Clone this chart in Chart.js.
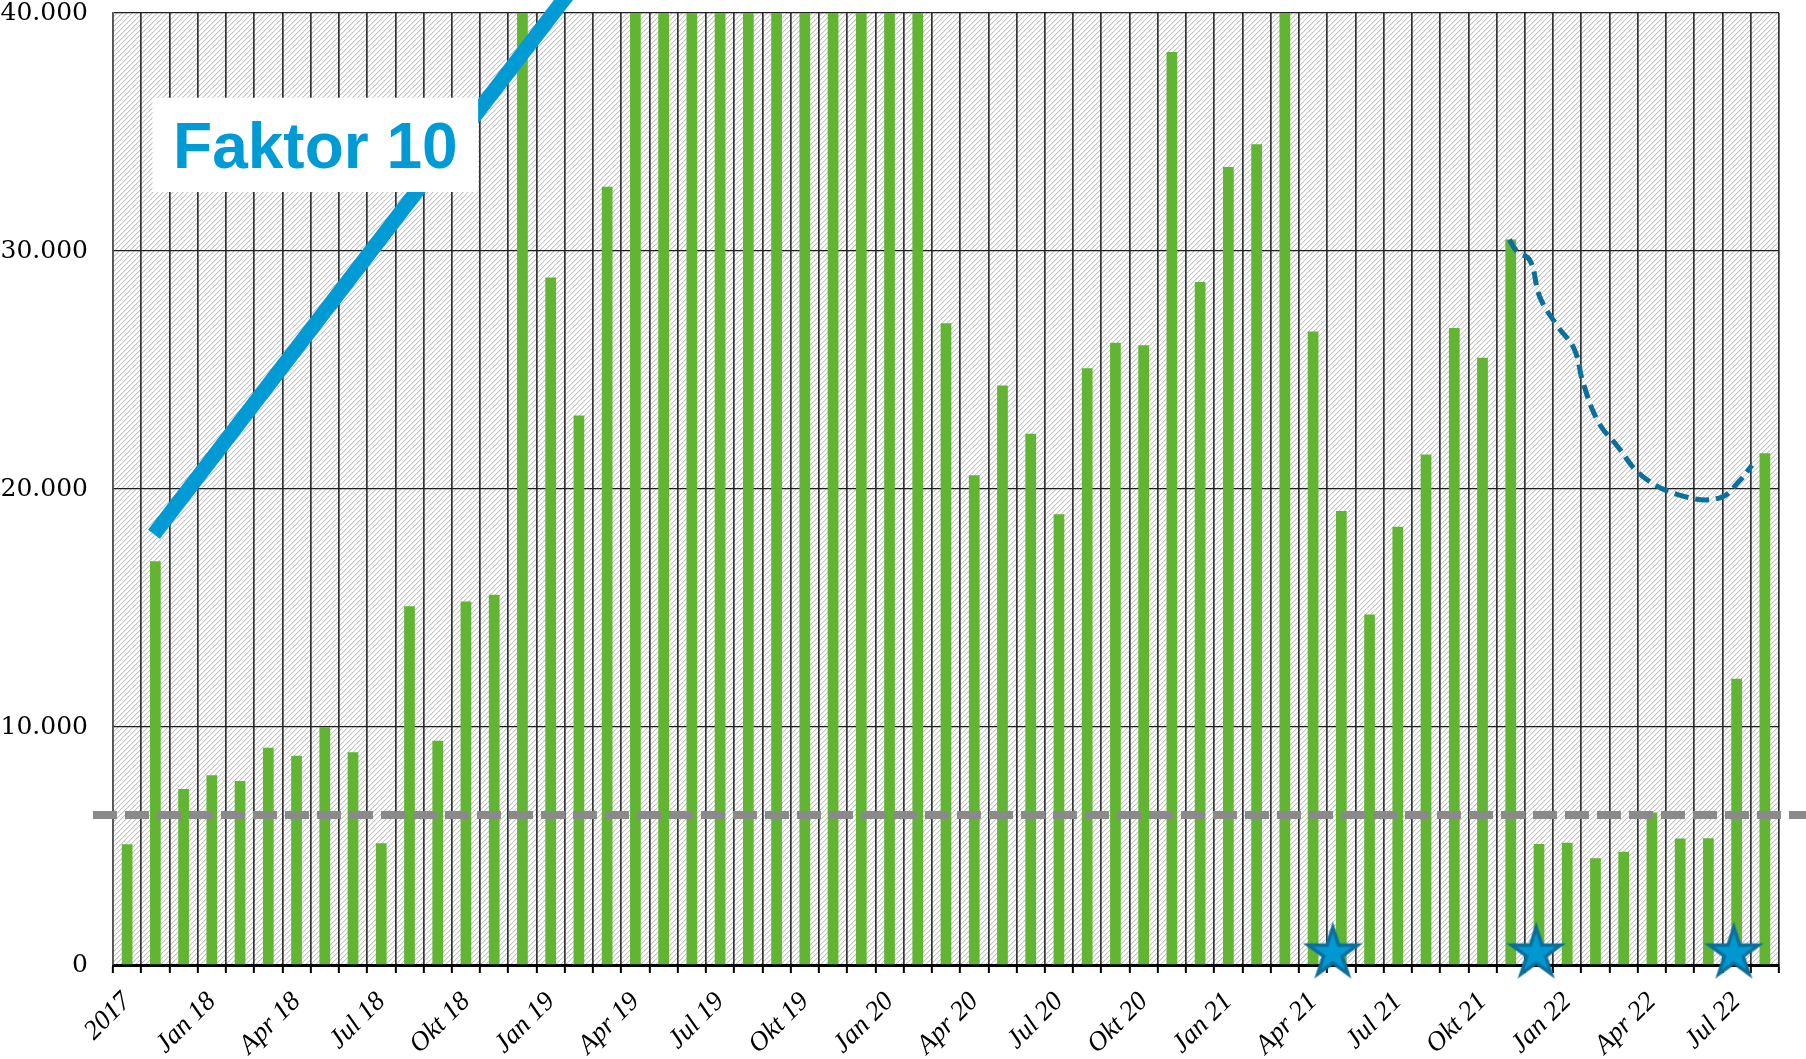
<!DOCTYPE html>
<html lang="de">
<head>
<meta charset="utf-8">
<title>Faktor 10</title>
<script src="https://cdn.jsdelivr.net/npm/chart.js@4.4.1/dist/chart.umd.min.js"></script>
<style>
  html, body { margin: 0; padding: 0; background: #fff; }
  #wrap { width: 1806px; height: 1059px; }
</style>
</head>
<body>
<div id="wrap"><canvas id="chart" width="1806" height="1059"></canvas></div>
<script>
// Monate (Okt 2017 bis Aug 2022), beschriftet wird jeder dritte
const monate = [
  '2017', 'Nov 17', 'Dez 17',
  'Jan 18', 'Feb 18', 'Mär 18', 'Apr 18', 'Mai 18', 'Jun 18', 'Jul 18', 'Aug 18', 'Sep 18', 'Okt 18', 'Nov 18', 'Dez 18',
  'Jan 19', 'Feb 19', 'Mär 19', 'Apr 19', 'Mai 19', 'Jun 19', 'Jul 19', 'Aug 19', 'Sep 19', 'Okt 19', 'Nov 19', 'Dez 19',
  'Jan 20', 'Feb 20', 'Mär 20', 'Apr 20', 'Mai 20', 'Jun 20', 'Jul 20', 'Aug 20', 'Sep 20', 'Okt 20', 'Nov 20', 'Dez 20',
  'Jan 21', 'Feb 21', 'Mär 21', 'Apr 21', 'Mai 21', 'Jun 21', 'Jul 21', 'Aug 21', 'Sep 21', 'Okt 21', 'Nov 21', 'Dez 21',
  'Jan 22', 'Feb 22', 'Mär 22', 'Apr 22', 'Mai 22', 'Jun 22', 'Jul 22', 'Aug 22'
];

// Monatswerte (über 40.000 abgeschnitten)
const werte = [
  5070, 16960, 7390,
  7970, 7730, 9130, 8790, 10000, 8940, 5120, 15070, 9420, 15270, 15560, 40000,
  28890, 23090, 32700, 40000, 40000, 40000, 40000, 40000, 40000, 40000, 40000, 40000,
  40000, 40000, 26960, 20580, 24350, 22320, 18940, 25070, 26140, 26040, 38360, 28700,
  33530, 34490, 40000, 26620, 19080, 14730, 18410, 21450, 26760, 25510, 30480, 5080,
  5140, 4490, 4760, 6410, 5310, 5330, 12030, 21500
];

const yTicks = [0, 10000, 20000, 30000, 40000];

// "Faktor 10"-Linie (x = Monatsindex)
const faktorLinie = [{ x: 0.95, y: 18100 }, { x: 16.5, y: 42170 }];
const faktorText = 'Faktor 10';

// Grenzlinie
const grenze = [{ x: -1.21, y: 6300 }, { x: 59.5, y: 6300 }];

// Prognosekurve ab Nov 21
const prognose = [
  { x: 48.95, y: 30480 }, { x: 49.21, y: 30000 }, { x: 49.68, y: 29610 },
  { x: 50.03, y: 28070 }, { x: 50.63, y: 26880 }, { x: 51.24, y: 25900 },
  { x: 51.57, y: 24430 }, { x: 52.10, y: 22820 }, { x: 52.75, y: 21840 },
  { x: 53.69, y: 20510 }, { x: 55.11, y: 19700 }, { x: 56.41, y: 19630 },
  { x: 57.12, y: 20370 }, { x: 57.54, y: 21000 }
];

// Sterne an der Achse
const sterne = [{ x: 42.7, y: 500 }, { x: 49.9, y: 500 }, { x: 56.9, y: 500 }];

function formatZahl(v) {
  return String(v).replace(/\B(?=(\d{3})+(?!\d))/g, '.');
}

function schraffur() {
  const n = 5;
  const c = document.createElement('canvas');
  c.width = n;
  c.height = n;
  const g = c.getContext('2d');
  g.fillStyle = '#fff';
  g.fillRect(0, 0, n, n);
  for (let i = 0; i < n; i++) {
    g.fillStyle = '#c4c4c4';
    g.fillRect(i, n - 1 - i, 1, 1);
    g.fillStyle = '#e8e8e8';
    g.fillRect(i, (n - i) % n, 1, 1);
  }
  return g.createPattern(c, 'repeat');
}

function sternBild(R) {
  const c = document.createElement('canvas');
  c.width = c.height = Math.ceil(2 * R + 4);
  const g = c.getContext('2d');
  const cx = c.width / 2, cy = c.height / 2;
  function stern(r) {
    g.beginPath();
    for (let k = 0; k < 10; k++) {
      const rr = k % 2 === 0 ? r : r * 0.382;
      const a = -Math.PI / 2 + k * Math.PI / 5;
      const px = cx + rr * Math.cos(a), py = cy + rr * Math.sin(a);
      if (k === 0) g.moveTo(px, py); else g.lineTo(px, py);
    }
    g.closePath();
    g.fill();
  }
  g.fillStyle = '#0b6f9c';
  stern(R);
  g.fillStyle = '#0098d2';
  stern(R * 0.64);
  return c;
}

const hintergrund = {
  id: 'hintergrund',
  beforeDraw(chart) {
    const { ctx, chartArea: a } = chart;
    ctx.save();
    ctx.fillStyle = '#fff';
    ctx.fillRect(0, 0, chart.width, chart.height);
    ctx.fillStyle = schraffur();
    ctx.fillRect(a.left, a.top, a.right - a.left, a.bottom - a.top);
    ctx.restore();
  }
};

const faktorLabel = {
  id: 'faktorLabel',
  afterDatasetsDraw(chart, args, opts) {
    const ctx = chart.ctx;
    const xs = chart.scales.xl, ys = chart.scales.y;
    const x1 = xs.getPixelForValue(opts.xMin), x2 = xs.getPixelForValue(opts.xMax);
    const y1 = ys.getPixelForValue(opts.yMax), y2 = ys.getPixelForValue(opts.yMin);
    ctx.save();
    ctx.fillStyle = '#fff';
    ctx.fillRect(x1, y1, x2 - x1, y2 - y1);
    ctx.font = 'bold 64px "Liberation Sans", Arial, sans-serif';
    ctx.fillStyle = '#009bd5';
    ctx.textAlign = 'center';
    ctx.textBaseline = 'alphabetic';
    ctx.fillText(faktorText, (x1 + x2) / 2, (y1 + y2) / 2 + 23);
    ctx.restore();
  }
};

// Innenabstände der Achsen nicht in das Layout einrechnen
function ohnePadding(s) {
  s.paddingTop = 0;
  s.paddingBottom = 0;
  s.paddingLeft = 0;
  s.paddingRight = 0;
}

new Chart(document.getElementById('chart'), {
  type: 'bar',
  data: {
    labels: monate,
    datasets: [
      {
        label: 'Monatswerte',
        data: werte,
        backgroundColor: '#62b532',
        barPercentage: 0.38,
        categoryPercentage: 1,
        grouped: false,
        xAxisID: 'x',
        order: 10
      },
      {
        type: 'line',
        label: 'Faktor 10',
        data: faktorLinie,
        xAxisID: 'xl',
        borderColor: '#009bd5',
        borderWidth: 15,
        borderCapStyle: 'butt',
        pointRadius: 0,
        clip: false,
        order: 3
      },
      {
        type: 'line',
        label: 'Grenze',
        data: grenze,
        xAxisID: 'xl',
        borderColor: '#8a8a8a',
        borderWidth: 8,
        borderDash: [24, 8],
        pointRadius: 0,
        clip: false,
        order: 4
      },
      {
        type: 'line',
        label: 'Prognose',
        data: prognose,
        xAxisID: 'xl',
        borderColor: '#0b6f9c',
        borderWidth: 5,
        borderDash: [14, 7],
        tension: 0.4,
        pointRadius: 0,
        clip: false,
        order: 2
      },
      {
        type: 'scatter',
        label: 'Sterne',
        data: sterne,
        xAxisID: 'xl',
        pointStyle: sternBild(31.5),
        pointRadius: 32,
        clip: false,
        order: 1
      }
    ]
  },
  options: {
    responsive: false,
    devicePixelRatio: 1,
    animation: false,
    layout: { autoPadding: false, padding: { top: 13, right: 27, left: 0, bottom: 0 } },
    plugins: {
      legend: { display: false },
      tooltip: { enabled: false },
      faktorLabel: { xMin: 0.9, xMax: 12.43, yMin: 32480, yMax: 36440 }
    },
    scales: {
      x: {
        type: 'category',
        offset: true,
        grid: {
          offset: true,
          color: '#333',
          lineWidth: 1.7,
          tickLength: 8,
          tickColor: '#000',
          tickWidth: 2
        },
        border: { color: '#000', width: 3 },
        ticks: {
          autoSkip: false,
          minRotation: 45,
          maxRotation: 45,
          padding: 13,
          color: '#000',
          font: { family: '"Liberation Serif", serif', style: 'italic', size: 27 },
          callback: (v, i) => (i % 3 === 0 ? monate[i] : '')
        },
        afterFit: s => { s.height = 94; ohnePadding(s); }
      },
      xl: {
        type: 'linear',
        display: false,
        offset: false,
        min: -0.5,
        max: monate.length - 0.5
      },
      y: {
        min: 0,
        max: 40000,
        afterBuildTicks: s => { s.ticks = yTicks.map(v => ({ value: v })); },
        grid: { color: '#1e1e1e', lineWidth: 1.3, drawTicks: false },
        border: { color: '#555', width: 1.5 },
        ticks: {
          padding: 25,
          color: '#000',
          font: { family: '"DejaVu Serif", serif', size: 25 },
          callback: v => formatZahl(v)
        },
        afterFit: s => { s.width = 113; ohnePadding(s); }
      }
    }
  },
  plugins: [hintergrund, faktorLabel]
});
</script>
</body>
</html>
